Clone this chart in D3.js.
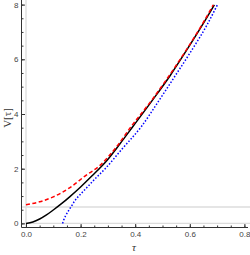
<!DOCTYPE html>
<html>
<head>
<meta charset="utf-8">
<script src="https://cdn.jsdelivr.net/npm/d3@7"></script>
<style>
  body { margin: 0; background: #fff; }
  #chart { width: 250px; height: 255px; }
  text { font-family: "Liberation Sans", Arial, sans-serif; }
</style>
</head>
<body>
<div id="chart"></div>
<script>
// values
const tauBlack = [0, 0.025, 0.05, 0.075, 0.10, 0.13, 0.161, 0.20, 0.241, 0.298, 0.345, 0.393, 0.46, 0.527, 0.585, 0.644, 0.69];
const vBlack   = [0, 0.05, 0.16, 0.31, 0.49, 0.72, 0.98, 1.33, 1.73, 2.32, 2.92, 3.56, 4.46, 5.39, 6.28, 7.22, 7.99];

const tauRed = [0, 0.05, 0.10, 0.161, 0.216, 0.271, 0.33, 0.385, 0.46, 0.525, 0.585, 0.642, 0.686];
const vRed   = [0.68, 0.79, 0.97, 1.31, 1.73, 2.12, 2.78, 3.54, 4.5, 5.41, 6.31, 7.22, 7.99];

const tauBlue = [0.134, 0.138, 0.145, 0.155, 0.167, 0.179, 0.20, 0.222, 0.25, 0.29, 0.35, 0.424, 0.485, 0.546, 0.605, 0.661, 0.701];
const vBlue   = [0, 0.12, 0.28, 0.45, 0.64, 0.83, 1.07, 1.30, 1.60, 2.0, 2.7, 3.56, 4.46, 5.39, 6.3, 7.22, 7.99];

const hLines = [0, 0.6];
const vLines = [0];

const xTicks = [0, 0.2, 0.4, 0.6, 0.8];
const yTicks = [0, 2, 4, 6, 8];

const width = 250, height = 255;
const svg = d3.select("#chart").append("svg")
    .attr("width", width)
    .attr("height", height);

const x = d3.scaleLinear().domain([0, 0.8]).range([26, 244.4]);
const y = d3.scaleLinear().domain([0, 8]).range([223.4, 4.6]);

const left = 21.5, bottom = 227.5;

// reference lines
svg.selectAll("line.h")
    .data(hLines)
    .enter().append("line")
    .attr("x1", left).attr("x2", width)
    .attr("y1", d => y(d)).attr("y2", d => y(d))
    .attr("stroke", "#dcdcdc")
    .attr("stroke-width", 1.3);

svg.selectAll("line.v")
    .data(vLines)
    .enter().append("line")
    .attr("x1", d => x(d)).attr("x2", d => x(d))
    .attr("y1", 0).attr("y2", bottom)
    .attr("stroke", "#dcdcdc")
    .attr("stroke-width", 1.3);

svg.append("clipPath").attr("id", "clip")
    .append("rect").attr("x", left).attr("y", 2.5)
    .attr("width", width - left).attr("height", bottom - 2.5);

const line = d3.line()
    .x(d => x(d[0]))
    .y(d => y(d[1]))
    .curve(d3.curveMonotoneX);

const plot = svg.append("g").attr("clip-path", "url(#clip)");

// blue dotted
plot.append("path")
    .datum(d3.zip(tauBlue, vBlue))
    .attr("fill", "none")
    .attr("stroke", "#0000ff")
    .attr("stroke-width", 1.5)
    .attr("stroke-dasharray", "1.5 1.8")
    .attr("d", line);

// black solid
plot.append("path")
    .datum(d3.zip(tauBlack, vBlack))
    .attr("fill", "none")
    .attr("stroke", "#000")
    .attr("stroke-width", 1.5)
    .attr("d", line);

// red dashed
plot.append("path")
    .datum(d3.zip(tauRed, vRed))
    .attr("fill", "none")
    .attr("stroke", "#ff0000")
    .attr("stroke-width", 1.5)
    .attr("stroke-dasharray", "4 2.5")
    .attr("d", line);

// axes
svg.append("g")
    .attr("transform", `translate(0,${bottom})`)
    .call(d3.axisBottom(x).tickValues(xTicks).tickSize(-3.5).tickPadding(4)
        .tickFormat(d3.format(".1f")));
svg.append("g")
    .attr("transform", `translate(0,${bottom})`)
    .call(d3.axisBottom(x).tickValues(d3.range(0, 0.81, 0.05)).tickSize(-2).tickFormat(""));

svg.append("g")
    .attr("transform", `translate(${left},0)`)
    .call(d3.axisLeft(y).tickValues(yTicks).tickSize(-3.5).tickPadding(3)
        .tickFormat(d3.format("d")));
svg.append("g")
    .attr("transform", `translate(${left},0)`)
    .call(d3.axisLeft(y).tickValues(d3.range(0, 8.01, 0.5)).tickSize(-2).tickFormat(""));

svg.selectAll(".domain").remove();
svg.selectAll(".tick line").attr("stroke", "#333");
svg.selectAll(".tick text").attr("fill", "#444").style("font-size", "8px");

svg.append("line")
    .attr("x1", left).attr("x2", 248)
    .attr("y1", bottom).attr("y2", bottom)
    .attr("stroke", "#333");
svg.append("line")
    .attr("x1", left).attr("x2", left)
    .attr("y1", 0).attr("y2", bottom)
    .attr("stroke", "#333");

// axis labels
svg.append("text")
    .attr("text-anchor", "middle")
    .attr("x", 134).attr("y", 251)
    .attr("fill", "#333")
    .style("font-size", "11px")
    .style("font-family", "'Liberation Serif', serif")
    .style("font-style", "italic")
    .text("τ");

svg.append("text")
    .attr("text-anchor", "middle")
    .attr("transform", "rotate(-90)")
    .attr("x", -118).attr("y", 11)
    .attr("fill", "#333")
    .style("font-size", "11px")
    .style("font-family", "'Liberation Serif', serif")
    .text("V[τ]");
</script>
</body>
</html>
